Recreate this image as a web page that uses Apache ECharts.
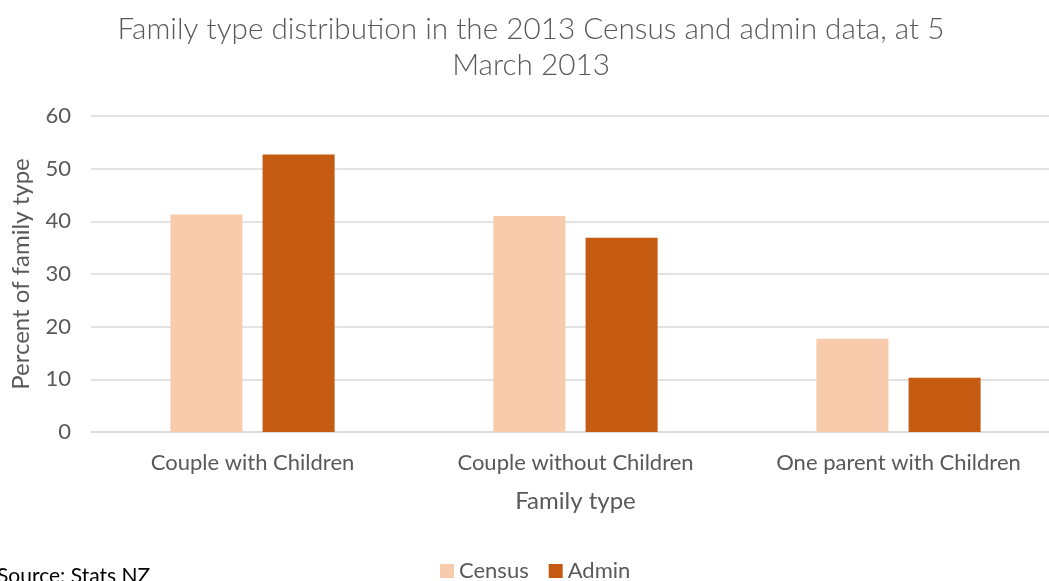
<!DOCTYPE html>
<html><head><meta charset="utf-8">
<script src="https://cdn.jsdelivr.net/npm/echarts@6/dist/echarts.min.js"></script>
<style>html,body{margin:0;padding:0;background:#fff}#c{width:1049px;height:581px}</style>
</head><body><div id="c"></div>
<script>
const categories = ["Couple with Children", "Couple without Children", "One parent with Children"];
const census = [41.3, 41.0, 17.7];
const admin = [52.7, 36.9, 10.3];
const yTicks = [0, 10, 20, 30, 40, 50, 60];

const chart = echarts.init(document.getElementById('c'));
const font = "Lato, 'Open Sans', sans-serif";
chart.setOption({
  animation: false,
  title: {
    text: "Family type distribution in the 2013 Census and admin data, at 5\nMarch 2013",
    left: 526, textAlign: 'center', top: 6,
    textStyle: {fontFamily: font, fontWeight: 300, fontSize: 29.7, color: '#595959', lineHeight: 36}
  },
  legend: {
    data: ['Census', 'Admin'], left: 435, top: 555,
    itemWidth: 14, itemHeight: 14, itemGap: 20, icon: 'rect',
    textStyle: {fontFamily: font, fontSize: 22, color: '#595959'}
  },
  graphic: [{type: 'text', left: -3, top: 566, style: {text: 'Source: Stats NZ', font: "21px Lato, sans-serif", fill: '#000'}}],
  grid: {left: 91, right: -11, top: 116, bottom: 149, outerBoundsMode: 'none', containLabel: false},
  xAxis: {
    type: 'category', data: categories,
    name: 'Family type', nameLocation: 'middle', nameGap: 57,
    nameTextStyle: {fontFamily: font, fontSize: 24, color: '#595959'},
    axisTick: {show: false},
    axisLine: {lineStyle: {color: '#d9d9d9', width: 1.5}},
    axisLabel: {fontFamily: font, fontSize: 22, color: '#595959', margin: 20}
  },
  yAxis: {
    type: 'value', min: 0, max: 60, interval: 10,
    name: 'Percent of family type', nameLocation: 'middle', nameGap: 58,
    nameTextStyle: {fontFamily: font, fontSize: 24, color: '#595959'},
    axisLabel: {fontFamily: font, fontSize: 22, color: '#595959', margin: 20,
      formatter: v => yTicks.includes(v) ? String(v) : ''},
    splitLine: {lineStyle: {color: '#d9d9d9', width: 1.5}}
  },
  series: [
    {name: 'Census', type: 'bar', data: census, barWidth: '22.3%', barGap: '28%', itemStyle: {color: '#f8cbad'}},
    {name: 'Admin', type: 'bar', data: admin, barWidth: '22.3%', barGap: '28%', itemStyle: {color: '#c55a11'}}
  ]
});
</script></body></html>
